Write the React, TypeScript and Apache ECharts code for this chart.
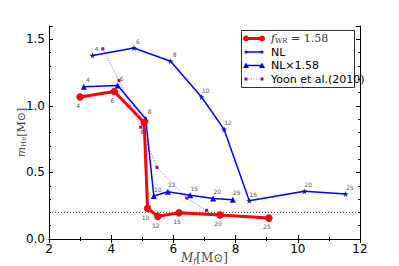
import React, { useEffect, useRef } from "react";
import * as echarts from "echarts";

// f_WR = 1.58 (red)
const redX = [3.0, 4.1, 5.06, 5.17, 5.5, 6.18, 7.5, 9.07];
const redY = [1.067, 1.108, 0.875, 0.23, 0.17, 0.197, 0.18, 0.157];
const redLab = ["4", "6", "8", "10", "12", "15", "20", "25"];
// NL (star)
const nlX = [3.4, 4.73, 5.91, 6.91, 7.63, 8.44, 10.21, 11.54];
const nlY = [1.378, 1.435, 1.335, 1.065, 0.823, 0.287, 0.358, 0.338];
const nlLab = ["4", "6", "8", "10", "12", "15", "20", "25"];
// NL x 1.58 (triangle)
const nl2X = [3.12, 4.21, 5.11, 5.37, 5.82, 6.54, 7.28, 7.91];
const nl2Y = [1.143, 1.153, 0.902, 0.323, 0.355, 0.328, 0.305, 0.295];
const nl2Lab = ["4", "6", "8", "10", "12", "15", "20", "25"];
// Yoon et al. (2010)
const yoonX = [3.73, 4.25, 4.95, 5.47, 6.43, 7.07];
const yoonY = [1.428, 1.19, 0.84, 0.538, 0.307, 0.215];
// reference line
const refY = 0.2;
const xTicks = [2, 4, 6, 8, 10, 12];
const yTicks = [0, 0.5, 1.0, 1.5];

const STAR =
  "path://M0,-1L0.224,-0.309L0.951,-0.309L0.363,0.118L0.588,0.809L0,0.382L-0.588,0.809L-0.363,0.118L-0.951,-0.309L-0.224,-0.309Z";

const starPts = (cx: number, cy: number, r: number) => {
  const p: number[][] = [];
  for (let i = 0; i < 10; i++) {
    const a = -Math.PI / 2 + (i * Math.PI) / 5;
    const rr = i % 2 === 0 ? r : r * 0.4;
    p.push([cx + rr * Math.cos(a), cy + rr * Math.sin(a)]);
  }
  return p;
};

export default function App() {
  const ref = useRef<HTMLDivElement>(null);
  useEffect(() => {
    if (!ref.current) return;
    const chart = echarts.init(ref.current, undefined, { renderer: "svg" });
    const font = "DejaVu Sans";
    const mk = (xs: number[], ys: number[], ls?: string[]) =>
      xs.map((x, i) => (ls ? [x, ys[i], ls[i]] : [x, ys[i]]));
    const smallLabel = (offset: number[], pos: string) => ({
      show: true,
      position: pos,
      distance: 1,
      offset,
      fontSize: 6,
      color: "#555",
      fontFamily: font,
      formatter: (p: any) => p.value[2],
    });
    const lx1 = 246,
      lx2 = 262,
      ys = [38.5, 52, 65.5, 79];
    const tx = 271;
    chart.setOption({
      animation: false,
      grid: { left: 49, top: 26, width: 311, height: 213, outerBoundsMode: "none", containLabel: false },
      xAxis: [
        {
          type: "value",
          min: 2,
          max: 12,
          interval: 2,
          name: "{i|M}{s|f}{n|[M⊙]}",
          nameLocation: "middle",
          nameGap: 13,
          nameMoveOverlap: false,
          nameTextStyle: {
            lineHeight: 12,
            rich: {
              i: { fontFamily: "DejaVu Serif", fontStyle: "italic", fontSize: 12, color: "#444", lineHeight: 12 },
              s: { fontFamily: "DejaVu Serif", fontStyle: "italic", fontSize: 8, color: "#444", lineHeight: 12, verticalAlign: "bottom" },
              n: { fontFamily: "DejaVu Serif", fontSize: 12, color: "#444", lineHeight: 12 },
            },
          },
          axisLine: { lineStyle: { color: "#000", width: 1 } },
          axisTick: { inside: true, length: 4, lineStyle: { color: "#000" } },
          minorTick: { show: true, splitNumber: 2, length: 2, lineStyle: { color: "#000" } },
          axisLabel: { fontSize: 12, color: "#000", fontFamily: font, margin: 4, formatter: (v: number) => (xTicks.includes(v) ? String(v) : "") },
          splitLine: { show: false },
        },
        {
          type: "value",
          position: "top",
          min: 2,
          max: 12,
          interval: 2,
          axisLine: { show: true, lineStyle: { color: "#000" } },
          axisTick: { inside: true, length: 4, lineStyle: { color: "#000" } },
          minorTick: { show: true, splitNumber: 2, length: 2, lineStyle: { color: "#000" } },
          axisLabel: { show: false },
          splitLine: { show: false },
        },
      ],
      yAxis: [
        {
          type: "value",
          min: 0,
          max: 1.6,
          interval: 0.5,
          name: "{i|m}{s|He}{n|[M⊙]}",
          nameLocation: "middle",
          nameRotate: 90,
          nameGap: 22,
          nameMoveOverlap: false,
          nameTextStyle: {
            rich: {
              i: { fontFamily: "DejaVu Serif", fontStyle: "italic", fontSize: 11, color: "#444" },
              s: { fontFamily: "DejaVu Serif", fontSize: 7, color: "#444", verticalAlign: "bottom", padding: [5, 0, 0, 0] },
              n: { fontFamily: "DejaVu Serif", fontSize: 11, color: "#444" },
            },
          },
          axisLine: { show: true, lineStyle: { color: "#000" } },
          axisTick: { inside: true, length: 4, lineStyle: { color: "#000" } },
          minorTick: { show: true, splitNumber: 5, length: 2, lineStyle: { color: "#000" } },
          axisLabel: {
            fontSize: 12,
            color: "#000",
            fontFamily: font,
            margin: 4,
            formatter: (v: number) => (yTicks.some((t) => Math.abs(t - v) < 1e-6) ? v.toFixed(1) : ""),
          },
          splitLine: { show: false },
        },
        {
          type: "value",
          position: "right",
          min: 0,
          max: 1.6,
          interval: 0.5,
          axisLine: { show: true, lineStyle: { color: "#000" } },
          axisTick: { inside: true, length: 4, lineStyle: { color: "#000" } },
          minorTick: { show: true, splitNumber: 5, length: 2, lineStyle: { color: "#000" } },
          axisLabel: { show: false },
          splitLine: { show: false },
        },
      ],
      series: [
        {
          type: "line",
          data: [[2, refY], [12, refY]],
          symbol: "none",
          lineStyle: { color: "#000", width: 0.8, type: [1, 2] },
          silent: true,
        },
        {
          type: "line",
          name: "Yoon",
          data: mk(yoonX, yoonY),
          symbol: "rect",
          symbolSize: 3,
          itemStyle: { color: "#990099" },
          lineStyle: { color: "#e040e0", width: 1, type: [1, 1.5] },
        },
        {
          type: "line",
          name: "NL",
          data: mk(nlX, nlY, nlLab),
          symbol: STAR,
          symbolSize: 5,
          itemStyle: { color: "#0000ff", borderColor: "#000033", borderWidth: 0.3 },
          lineStyle: { color: "#0000ff", width: 1.5 },
          label: smallLabel([4, 0], "top"),
        },
        {
          type: "line",
          name: "NL158",
          data: mk(nl2X, nl2Y, nl2Lab),
          symbol: "triangle",
          symbolSize: 6,
          itemStyle: { color: "#0000ff" },
          lineStyle: { color: "#0000ff", width: 1.5 },
          label: smallLabel([4, 0], "top"),
        },
        {
          type: "line",
          name: "fwr",
          data: mk(redX, redY, redLab),
          symbol: "circle",
          symbolSize: 7,
          itemStyle: { color: "#ff0000", borderColor: "#cc0000", borderWidth: 0.5 },
          lineStyle: { color: "#ff0000", width: 3 },
          label: smallLabel([-2, 1], "bottom"),
        },
      ],
      graphic: [
        {
          type: "rect",
          shape: { x: 241.5, y: 30.5, width: 113, height: 57 },
          style: { fill: "#fff", stroke: "#333", lineWidth: 1 },
          z: 100,
        },
        { type: "line", shape: { x1: lx1, y1: ys[0], x2: lx2, y2: ys[0] }, style: { stroke: "#ff0000", lineWidth: 3 }, z: 101 },
        { type: "circle", shape: { cx: lx1, cy: ys[0], r: 3 }, style: { fill: "#ff0000" }, z: 102 },
        { type: "circle", shape: { cx: lx2, cy: ys[0], r: 3 }, style: { fill: "#ff0000" }, z: 102 },
        { type: "line", shape: { x1: lx1, y1: ys[1], x2: lx2, y2: ys[1] }, style: { stroke: "#0000ff", lineWidth: 1.5 }, z: 101 },
        { type: "polygon", shape: { points: starPts(lx1, ys[1], 2.5) }, style: { fill: "#0000ff" }, z: 102 },
        { type: "polygon", shape: { points: starPts(lx2, ys[1], 2.5) }, style: { fill: "#0000ff" }, z: 102 },
        { type: "line", shape: { x1: lx1, y1: ys[2], x2: lx2, y2: ys[2] }, style: { stroke: "#0000ff", lineWidth: 1.5 }, z: 101 },
        { type: "polygon", shape: { points: [[lx1, ys[2] - 3], [lx1 - 3, ys[2] + 2.5], [lx1 + 3, ys[2] + 2.5]] }, style: { fill: "#0000ff" }, z: 102 },
        { type: "polygon", shape: { points: [[lx2, ys[2] - 3], [lx2 - 3, ys[2] + 2.5], [lx2 + 3, ys[2] + 2.5]] }, style: { fill: "#0000ff" }, z: 102 },
        { type: "line", shape: { x1: lx1, y1: ys[3], x2: lx2, y2: ys[3] }, style: { stroke: "#e040e0", lineWidth: 1, lineDash: [1, 1.5] }, z: 101 },
        { type: "rect", shape: { x: lx1 - 1.5, y: ys[3] - 1.5, width: 3, height: 3 }, style: { fill: "#990099" }, z: 102 },
        { type: "rect", shape: { x: lx2 - 1.5, y: ys[3] - 1.5, width: 3, height: 3 }, style: { fill: "#990099" }, z: 102 },
        {
          type: "text",
          x: tx,
          y: ys[0],
          z: 102,
          style: {
            text: "{i|f}{s|WR}{n| = 1.58}",
            verticalAlign: "middle",
            rich: {
              i: { fontFamily: "DejaVu Serif", fontStyle: "italic", fontSize: 11, fill: "#333" },
              s: { fontFamily: "DejaVu Serif", fontSize: 7, fill: "#333", padding: [5, 0, 0, 0] },
              n: { fontFamily: "DejaVu Serif", fontSize: 11, fill: "#333" },
            },
          },
        },
        { type: "text", x: tx, y: ys[1], z: 102, style: { text: "NL", fontSize: 11, fontFamily: font, fill: "#000", verticalAlign: "middle" } },
        { type: "text", x: tx, y: ys[2], z: 102, style: { text: "NL×1.58", fontSize: 11, fontFamily: font, fill: "#000", verticalAlign: "middle" } },
        { type: "text", x: tx, y: ys[3], z: 102, style: { text: "Yoon et al.(2010)", fontSize: 11, fontFamily: font, fill: "#000", verticalAlign: "middle" } },
      ],
    });
    return () => chart.dispose();
  }, []);
  return <div ref={ref} style={{ width: 399, height: 266, position: "absolute", left: 0, top: 0 }} />;
}
